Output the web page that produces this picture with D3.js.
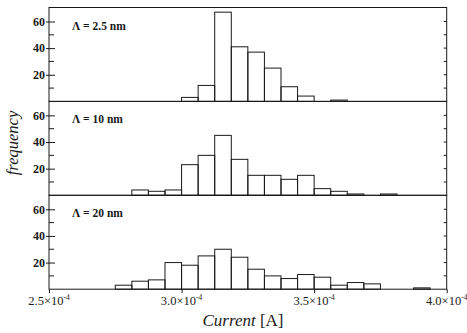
<!DOCTYPE html>
<html><head><meta charset="utf-8">
<script src="https://cdn.jsdelivr.net/npm/d3@7"></script>
<style>body{margin:0;background:#fff}svg{display:block}</style>
</head><body>
<svg id="c" width="467" height="333"></svg>
<script>
// ---- data ----
const binStarts = [2.75,2.8125,2.875,2.9375,3.0,3.0625,3.125,3.1875,3.25,3.3125,3.375,3.4375,3.5,3.5625,3.625,3.6875,3.75,3.8125,3.875,3.9375];
const binWidth = 0.0625;
const panelLabels = ["\u039B = 2.5 nm", "\u039B = 10 nm", "\u039B = 20 nm"];
const counts25 = [0,0,0,0,3,12,67,41,37,25,11,4,0,1,0,0,0,0,0,0];
const counts10 = [0,4,3,4,23,30,45,27,15,15,12,15,5,3,1,0,1,0,0,0];
const counts20 = [3,6,7,20,18,25,30,24,15,10,8,11,9,3,5,4,0,0,1,0];
const xTicks = [2.5,3.0,3.5,4.0];
const xTickLabels = ["2.5", "3.0", "3.5", "4.0"];
const yTicks = [20,40,60];
const yMinor = [10,30,50];

const series = [counts25, counts10, counts20];
const svg = d3.select("#c");
const L = 49, R = 446.7, T = 7.5, PH = 93.9;
const x = d3.scaleLinear().domain([2.5,4.0]).range([L,R]);
const ink = "#1a1a1a";
const serif = "'Liberation Serif','DejaVu Serif',serif";

series.forEach((vals, i) => {
  const top = T + i*PH;
  const y = d3.scaleLinear().domain([0,70.5]).range([top+PH, top]);
  const g = svg.append("g");
  g.selectAll("rect").data(binStarts.map((b,k)=>({b, v: vals[k]})).filter(d=>d.v>0))
    .enter().append("rect")
    .attr("x", d=>x(d.b)).attr("width", d=>x(d.b+binWidth)-x(d.b))
    .attr("y", d=>y(d.v)).attr("height", d=>y(0)-y(d.v))
    .attr("fill","none").attr("stroke", ink).attr("stroke-width",1);
  const la = g.append("g").attr("transform",`translate(${L},0)`)
    .call(d3.axisLeft(y).tickValues(yTicks).tickSize(3).tickFormat(d3.format("d")));
  la.select(".domain").remove();
  la.selectAll(".tick line").attr("x2", 6).attr("x1",-3).attr("stroke", ink);
  la.selectAll(".tick text").attr("x",-4).attr("font-family", serif).attr("font-size", 12).attr("font-weight","bold").attr("fill", ink);
  g.append("g").selectAll("line").data(yMinor).enter().append("line")
    .attr("x1", L).attr("x2", L+5).attr("y1", d=>y(d)).attr("y2", d=>y(d)).attr("stroke", ink);
  g.append("g").selectAll("line").data(yTicks.concat(yMinor)).enter().append("line")
    .attr("x1", R).attr("x2", R-3).attr("y1", d=>y(d)).attr("y2", d=>y(d)).attr("stroke", ink);
  g.append("rect").attr("x", L).attr("y", top).attr("width", R-L).attr("height", PH)
    .attr("fill","none").attr("stroke", ink).attr("stroke-width",1);
  g.append("text").attr("x", 72).attr("y", top + 22).attr("font-family", serif)
    .attr("font-size", 11.5).attr("font-weight","bold").attr("fill", ink).text(panelLabels[i]);
});

const bottom = T + 3*PH;
const xa = svg.append("g").attr("transform",`translate(0,${bottom})`)
  .call(d3.axisBottom(x).tickValues(xTicks).tickSize(4).tickFormat(""));
xa.select(".domain").remove();
xa.selectAll(".tick line").attr("stroke", ink);
const tl = svg.append("g").selectAll("text").data(xTicks).enter().append("text")
  .attr("x", d=>x(d)).attr("y", bottom+16).attr("text-anchor","middle")
  .attr("font-family", serif).attr("font-size", 12.5).attr("fill", ink);
tl.append("tspan").text((d,k)=>xTickLabels[k] + "\u00D710");
tl.append("tspan").attr("dy",-5).attr("font-size",7.5).text("-4");

svg.append("text").attr("transform","translate(18,143) rotate(-90)").attr("text-anchor","middle")
  .attr("font-family", serif).attr("font-size", 16.5).attr("font-style","italic").attr("fill", ink).text("frequency");
const xt = svg.append("text").attr("x", 243).attr("y", 326).attr("text-anchor","middle")
  .attr("font-family", serif).attr("font-size", 17).attr("fill", ink);
xt.append("tspan").attr("font-style","italic").text("Current");
xt.append("tspan").text(" [A]");
</script>
</body></html>
